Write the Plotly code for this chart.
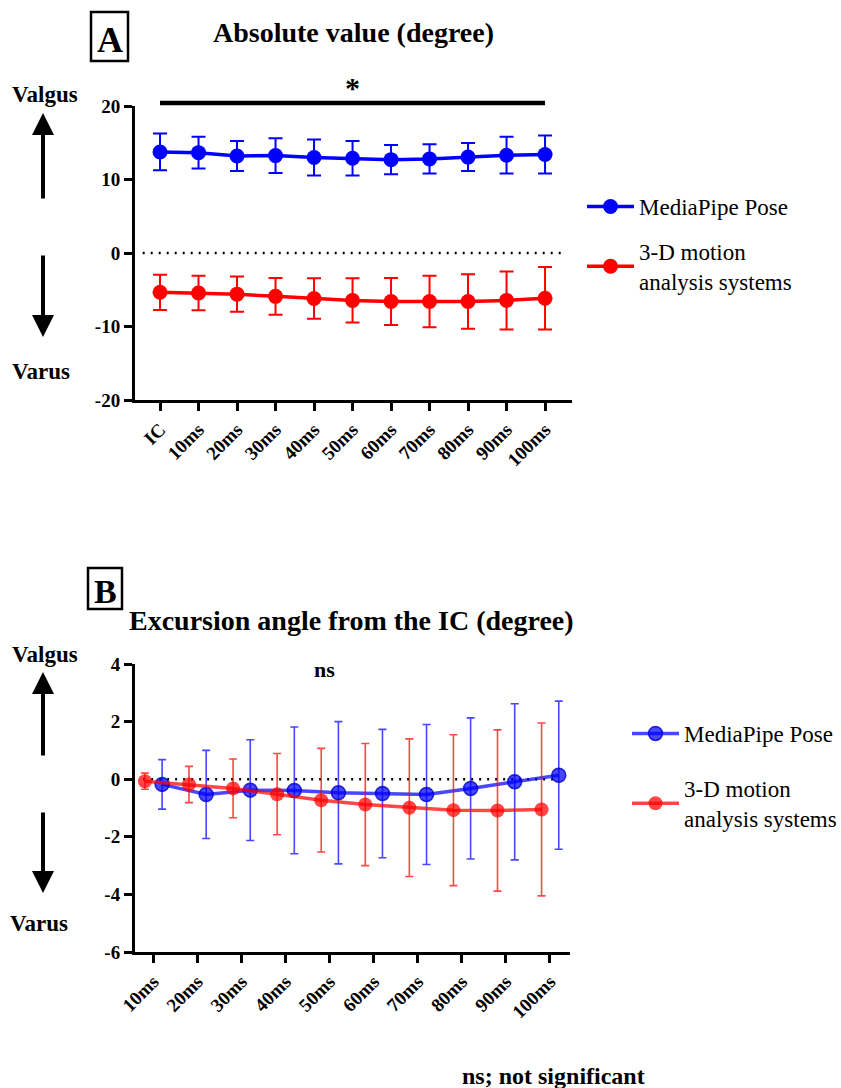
import plotly.graph_objects as go

# ---------------- data ----------------
cats_a = ["IC", "10ms", "20ms", "30ms", "40ms", "50ms", "60ms", "70ms", "80ms", "90ms", "100ms"]
mp_a_mean = [13.75, 13.65, 13.2, 13.25, 13.0, 12.9, 12.7, 12.8, 13.05, 13.3, 13.4]
mp_a_sd = [2.5, 2.15, 2.05, 2.35, 2.45, 2.35, 2.0, 2.0, 1.9, 2.5, 2.6]
mo_a_mean = [-5.35, -5.45, -5.6, -5.9, -6.2, -6.45, -6.6, -6.6, -6.6, -6.45, -6.15]
mo_a_sd = [2.4, 2.35, 2.4, 2.5, 2.75, 3.0, 3.2, 3.5, 3.7, 3.95, 4.25]

cats_b = ["10ms", "20ms", "30ms", "40ms", "50ms", "60ms", "70ms", "80ms", "90ms", "100ms"]
mp_b_mean = [-0.18, -0.53, -0.38, -0.39, -0.47, -0.50, -0.53, -0.32, -0.09, 0.14]
mp_b_sd = [0.86, 1.53, 1.75, 2.2, 2.47, 2.23, 2.43, 2.45, 2.71, 2.57]
mo_b_mean = [-0.07, -0.185, -0.32, -0.52, -0.73, -0.88, -0.99, -1.075, -1.087, -1.05]
mo_b_sd = [0.28, 0.63, 1.02, 1.41, 1.8, 2.12, 2.39, 2.62, 2.8, 3.0]

yticks_a = [-20, -10, 0, 10, 20]
yticks_b = [-6, -4, -2, 0, 2, 4]

series_names = ["MediaPipe Pose", "3-D motion<br>analysis systems"]

FONT = "'Liberation Serif', 'Times New Roman', Times, serif"
W, H = 841, 1088
BLUE = "rgb(0,0,255)"
RED = "rgb(255,0,0)"
BLUE_T = "rgba(0,0,255,0.72)"
RED_T = "rgba(255,0,0,0.72)"

def py(p):  # pixel y -> paper
    return 1 - p / H

def px(p):
    return p / W

def lab(v):
    return str(v).replace("\u2212", "-")

fig = go.Figure()

xa = list(range(len(cats_a)))
xb = list(range(len(cats_b)))
off_r, off_b = -0.19, 0.2

# Panel A
fig.add_trace(go.Scatter(
    x=xa, y=mp_a_mean, mode="lines+markers", name=series_names[0], legendgroup="a1",
    line=dict(color=BLUE, width=3.5), marker=dict(color=BLUE, size=15),
    error_y=dict(type="data", array=mp_a_sd, color=BLUE, thickness=2, width=7),
    xaxis="x", yaxis="y", legend="legend"))
fig.add_trace(go.Scatter(
    x=xa, y=mo_a_mean, mode="lines+markers", name=series_names[1], legendgroup="a2",
    line=dict(color=RED, width=3.5), marker=dict(color=RED, size=15),
    error_y=dict(type="data", array=mo_a_sd, color=RED, thickness=2, width=7),
    xaxis="x", yaxis="y", legend="legend"))

# Panel B
fig.add_trace(go.Scatter(
    x=[i + off_b for i in xb], y=mp_b_mean, mode="lines+markers", name=series_names[0],
    legendgroup="b1",
    line=dict(color=BLUE_T, width=3.5),
    marker=dict(color=BLUE_T, size=14, line=dict(color="rgba(0,0,200,0.8)", width=1.5)),
    error_y=dict(type="data", array=mp_b_sd, color=BLUE_T, thickness=1.6, width=4),
    xaxis="x2", yaxis="y2", legend="legend2"))
fig.add_trace(go.Scatter(
    x=[i + off_r for i in xb], y=mo_b_mean, mode="lines+markers", name=series_names[1],
    legendgroup="b2",
    line=dict(color=RED_T, width=3.5), marker=dict(color=RED_T, size=14),
    error_y=dict(type="data", array=mo_b_sd, color=RED_T, thickness=1.6, width=4),
    xaxis="x2", yaxis="y2", legend="legend2"))

axis_common = dict(
    showline=True, linecolor="black", linewidth=3, ticks="outside", ticklen=8,
    tickwidth=3, tickcolor="black", showgrid=False, zeroline=False, automargin=False,
    tickfont=dict(family=FONT, size=19, color="black", weight="bold"),
)
xtickfont = dict(family=FONT, size=19, color="black", weight="bold")

fig.update_layout(
    width=W, height=H, margin=dict(l=0, r=0, t=0, b=0, pad=0, autoexpand=False),
    paper_bgcolor="white", plot_bgcolor="white",
    font=dict(family=FONT, color="black"),
    xaxis=dict(axis_common, domain=[px(135), px(572)], range=[-0.65, 10.7],
               tickvals=xa, ticktext=cats_a, tickangle=-45, anchor="y",
               tickfont=xtickfont),
    yaxis=dict(axis_common, domain=[py(400), py(106)], range=[-20, 20],
               tickvals=yticks_a, ticktext=[lab(v) for v in yticks_a], anchor="x"),
    xaxis2=dict(axis_common, domain=[px(135), px(570)], range=[-0.415, 9.455],
                tickvals=xb, ticktext=cats_b, tickangle=-45, anchor="y2",
                tickfont=xtickfont),
    yaxis2=dict(axis_common, domain=[py(952), py(664)], range=[-6, 4],
                tickvals=yticks_b, ticktext=[lab(v) for v in yticks_b], anchor="x2"),
    legend=dict(x=px(582), y=py(185), xanchor="left", yanchor="top",
                font=dict(family=FONT, size=23, color="black"),
                tracegroupgap=12, itemwidth=47, bgcolor="rgba(0,0,0,0)"),
    legend2=dict(x=px(627), y=py(712), xanchor="left", yanchor="top",
                 font=dict(family=FONT, size=23, color="black"),
                 tracegroupgap=22, itemwidth=47, bgcolor="rgba(0,0,0,0)"),
    showlegend=True,
)

shapes = []
shapes.append(dict(type="line", xref="x", yref="y", x0=-0.45, x1=10.55, y0=0, y1=0,
                   line=dict(color="black", width=2.5, dash="2px,6px")))
shapes.append(dict(type="line", xref="x2", yref="y2", x0=-0.23, x1=9.1, y0=0, y1=0,
                   line=dict(color="black", width=2.5, dash="2px,6px"), layer="below"))
shapes.append(dict(type="line", xref="x", yref="paper", x0=0, x1=10, y0=py(103), y1=py(103),
                   line=dict(color="black", width=4.5)))
shapes.append(dict(type="rect", xref="paper", yref="paper", x0=px(91), x1=px(128),
                   y0=py(61), y1=py(12), line=dict(color="black", width=2.5)))
shapes.append(dict(type="rect", xref="paper", yref="paper", x0=px(88), x1=px(122),
                   y0=py(609), y1=py(568), line=dict(color="black", width=2.5)))
fig.update_layout(shapes=shapes)

ann = []
def txt(x, y, s, size, bold=True, xanchor="center", yanchor="middle", xref="paper"):
    ann.append(dict(x=x, y=y, xref=xref, yref="paper", text=s, showarrow=False,
                    xanchor=xanchor, yanchor=yanchor,
                    font=dict(family=FONT, size=size, color="black",
                              weight="bold" if bold else "normal")))

txt(px(109.5), py(40), "A", 36)
txt(px(105), py(591), "B", 34)
txt(px(353), py(32), "Absolute value (degree)", 28)
txt(px(351.5), py(620), "Excursion angle from the IC (degree)", 28)
txt(5, py(87), "*", 30, xref="x")
txt(px(324), py(669), "ns", 22)
txt(px(553), py(1076), "ns; not significant", 24)
txt(px(45), py(95), "Valgus", 23)
txt(px(41), py(371), "Varus", 23)
txt(px(45), py(654), "Valgus", 23)
txt(px(39), py(923), "Varus", 23)

def arrow(xp, y_head, y_tail):
    ann.append(dict(x=px(xp), y=py(y_head), xref="paper", yref="paper",
                    ax=0, ay=y_tail - y_head, axref="pixel", ayref="pixel",
                    showarrow=True, arrowhead=2, arrowsize=1.1, arrowwidth=4,
                    arrowcolor="black", text=""))

arrow(43, 113, 200)
arrow(43, 337, 254)
arrow(43, 672, 757)
arrow(43, 893, 811)
fig.update_layout(annotations=ann)

fig.write_html("out.html", config={"displayModeBar": False},
               post_script="document.body.style.margin='0';document.body.style.padding='0';")
